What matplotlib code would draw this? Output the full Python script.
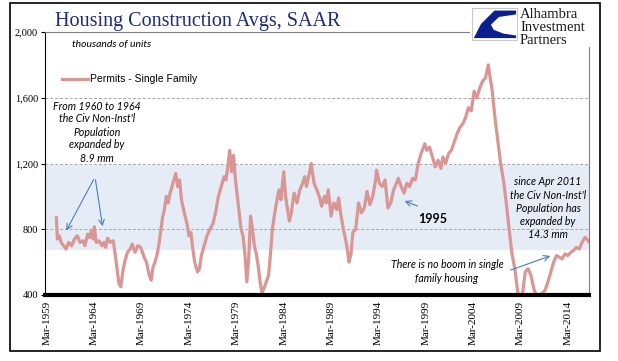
import matplotlib.pyplot as plt
from matplotlib.patches import Rectangle, Polygon

# Data (decimal years, thousands of units SAAR)
years = [1960.0, 1960.1, 1960.3, 1960.5, 1960.75, 1961.0, 1961.3, 1961.6, 1961.9,
         1962.2, 1962.5, 1962.8, 1963.0, 1963.3, 1963.5, 1963.7, 1963.9, 1964.0,
         1964.2, 1964.5, 1964.8, 1965.0, 1965.2, 1965.4, 1965.7, 1966.0, 1966.2,
         1966.4, 1966.6, 1966.8, 1967.0, 1967.2, 1967.5, 1967.8, 1968.0, 1968.3,
         1968.6, 1968.9, 1969.2, 1969.5, 1969.8, 1970.0, 1970.2, 1970.4, 1970.6,
         1970.8, 1971.0, 1971.2, 1971.4, 1971.6, 1971.8, 1972.0, 1972.3, 1972.6,
         1972.8, 1973.0, 1973.2, 1973.5, 1973.8, 1974.0, 1974.2, 1974.4, 1974.6,
         1974.9, 1975.1, 1975.3, 1975.6, 1975.9, 1976.2, 1976.5, 1976.8, 1977.1,
         1977.4, 1977.7, 1977.9, 1978.1, 1978.3, 1978.5, 1978.7, 1978.9, 1979.1,
         1979.3, 1979.5, 1979.7, 1979.9, 1980.1, 1980.3, 1980.5, 1980.7, 1980.9,
         1981.1, 1981.3, 1981.5, 1981.7, 1981.9, 1982.1, 1982.4, 1982.6, 1982.8,
         1983.0, 1983.2, 1983.5, 1983.7, 1984.0, 1984.2, 1984.4, 1984.6, 1984.8,
         1985.1, 1985.4, 1985.7, 1986.0, 1986.2, 1986.4, 1986.7, 1986.9, 1987.2,
         1987.5, 1987.8, 1988.0, 1988.3, 1988.5, 1988.7, 1989.0, 1989.3, 1989.6,
         1989.8, 1990.0, 1990.3, 1990.6, 1990.9, 1991.1, 1991.3, 1991.6, 1991.9,
         1992.2, 1992.5, 1992.8, 1993.1, 1993.4, 1993.7, 1993.8, 1994.1, 1994.4,
         1994.7, 1995.0, 1995.3, 1995.6, 1995.9, 1996.1, 1996.4, 1996.7, 1997.0,
         1997.3, 1997.6, 1997.9, 1998.2, 1998.5, 1998.9, 1999.1, 1999.4, 1999.7,
         2000.0, 2000.3, 2000.6, 2000.8, 2001.1, 2001.4, 2001.7, 2002.0, 2002.3,
         2002.6, 2002.9, 2003.2, 2003.5, 2003.8, 2004.1, 2004.4, 2004.7, 2005.0,
         2005.3, 2005.6, 2005.8, 2006.0, 2006.3, 2006.6, 2006.9, 2007.2, 2007.5,
         2007.8, 2008.1, 2008.4, 2008.7, 2008.9, 2009.2, 2009.5, 2009.8, 2010.1,
         2010.4, 2010.7, 2011.0, 2011.3, 2011.6, 2011.9, 2012.2, 2012.5, 2012.8,
         2013.1, 2013.4, 2013.7, 2014.0, 2014.3, 2014.6, 2014.9, 2015.2, 2015.5,
         2015.8, 2016.0, 2016.3]
permits = [870, 740, 760, 720, 700, 680, 720, 700, 740,
           760, 720, 730, 700, 770, 750, 790, 740, 815,
           720, 730, 700, 720, 690, 745, 720, 730, 650,
           560, 470, 450, 540, 600, 660, 680, 710, 660,
           700, 690, 640, 600, 520, 490, 570, 600, 640,
           700, 780, 870, 920, 1000, 960, 1020, 1080, 1140,
           1060, 1100, 980, 900, 830, 760, 780, 680, 600,
           540, 560, 640, 700, 760, 800, 830, 900, 1000,
           1060, 1120, 1100, 1180, 1280, 1150, 1250, 1100, 1000,
           900, 800, 760, 650, 480, 620, 880, 800, 700,
           650, 580, 480, 410, 440, 470, 520, 650, 800,
           880, 950, 1040, 980, 1150, 1000, 920, 850, 900,
           1020, 960, 1040, 1080, 1120, 1060, 1140, 1200, 1080,
           1040, 990, 940, 1000, 960, 1040, 880, 960, 920,
           990, 900, 800, 720, 600, 650, 780, 800, 960,
           900, 930, 1030, 950, 1000, 1100, 1160, 1080, 1060,
           1100, 930, 960, 1040, 1080, 1110, 1060, 1020, 1080,
           1060, 1110, 1100, 1200, 1260, 1320, 1280, 1300, 1240,
           1180, 1220, 1170, 1240, 1200, 1260, 1280, 1330, 1380,
           1420, 1440, 1480, 1540, 1520, 1640, 1600, 1660, 1700,
           1720, 1800, 1720, 1650, 1480, 1340, 1200, 1100, 960,
           800, 650, 560, 420, 370, 400, 540, 560, 520,
           440, 390, 400, 410, 430, 480, 540, 600, 640,
           630, 620, 650, 640, 660, 670, 690, 680, 720,
           750, 740, 720]

tick_years = [1959, 1964, 1969, 1974, 1979, 1984, 1989, 1994, 1999, 2004, 2009, 2014]
y_ticks = [400, 800, 1200, 1600, 2000]
y_labels = ["400", "800", "1,200", "1,600", "2,000"]

W, H = 618, 361


def px(x, y):
    return (x / W, 1 - y / H)


line_col = "#D99694"
arrow_col = "#4A7EBB"
note_font = "Lato"

fig = plt.figure(figsize=(W / 100, H / 100), dpi=100)
ax = fig.add_axes([45 / W, 1 - 295 / H, (589 - 45) / W, (295 - 32) / H])

ax.axhspan(675, 1190, color="#E6ECF6", lw=0, zorder=0)
for v in [800, 1200, 1600]:
    ax.axhline(v, color="#A6A6A6", lw=0.7, ls=(0, (3, 2)), zorder=1)

ax.plot([y + 2 / 12 for y in years], permits, color=line_col, lw=2.3,
        solid_joinstyle="round", zorder=3, label="Permits - Single Family")

ax.set_xlim(1958.96, 2016.4)
ax.set_ylim(400, 2000)
ax.set_yticks(y_ticks)
ax.set_yticklabels(y_labels, fontfamily="Liberation Serif", fontsize=7.5)
ax.set_xticks([y + 2 / 12 for y in tick_years])
ax.set_xticklabels(["Mar-%d" % y for y in tick_years], rotation=90,
                   fontfamily="Liberation Serif", fontsize=8)
ax.tick_params(axis="x", length=0, pad=4)
ax.tick_params(axis="y", length=3, width=0.8, pad=2)

ax.spines["bottom"].set_linewidth(3)
ax.spines["bottom"].set_zorder(4)
ax.spines["left"].set_linewidth(0.8)
ax.spines["top"].set_color("#808080")
ax.spines["top"].set_linewidth(0.8)
ax.spines["right"].set_color("#808080")
ax.spines["right"].set_linewidth(0.8)

# outer frame
fig.patches.append(Rectangle(px(10, 351), 590 / W, 348 / H, transform=fig.transFigure,
                             fill=False, edgecolor="black", lw=1.2, zorder=5))
# white area behind logo
fig.patches.append(Rectangle(px(470, 47), 128 / W, 43 / H, transform=fig.transFigure,
                             facecolor="white", edgecolor="none", zorder=2))

fig.text(*px(55, 26), "Housing Construction Avgs, SAAR", fontfamily="Liberation Serif",
         fontsize=14.5, color="#1F2A7A", va="baseline")
fig.text(*px(72, 44), "thousands of units", fontfamily=note_font, style="italic",
         fontsize=7.5, va="center")

# legend
lx0, lx1 = px(62, 79)[0], px(88, 79)[0]
fig.add_artist(plt.Line2D([lx0, lx1], [px(0, 79)[1]] * 2, color=line_col, lw=2.3,
                          transform=fig.transFigure))
fig.text(*px(90, 79), "Permits - Single Family", fontfamily="Liberation Sans",
         fontsize=7.5, va="center")

# logo
lax = fig.add_axes([472 / W, 1 - 40 / H, 45 / W, 32 / H])
lax.set_zorder(6)
lax.set_xlim(0, 1)
lax.set_ylim(0, 1)
lax.set_xticks([])
lax.set_yticks([])
for s in lax.spines.values():
    s.set_color("#C8C8C8")
    s.set_linewidth(0.8)
lax.add_patch(Polygon([(0.98, 0.92), (0.5, 0.92), (0.2, 0.5), (0.04, 0.06), (0.98, 0.06),
                       (0.98, 0.14), (0.7, 0.2), (0.48, 0.32), (0.42, 0.48), (0.6, 0.72),
                       (0.98, 0.8)], closed=True, facecolor="#0A1F8F", edgecolor="none"))
for i, t in enumerate(["Alhambra", "Investment", "Partners"]):
    fig.text(*px(520, 15 + i * 12.5), t, fontfamily="Liberation Serif", fontsize=10.5,
             color="#1A1A1A", va="center", zorder=7)

# annotations
note1 = ["From 1960 to 1964", "the Civ Non-Inst'l", "Population", "expanded by", "8.9 mm"]
for i, t in enumerate(note1):
    fig.text(*px(97, 106 + i * 13), t, fontfamily=note_font, style="italic",
             fontsize=7.6, ha="center", va="center")
for tip in [(65, 233), (103, 229)]:
    ax.annotate("", xy=px(*tip), xycoords="figure fraction", xytext=px(95, 177),
                textcoords="figure fraction",
                arrowprops=dict(arrowstyle="->", color=arrow_col, lw=0.8))

fig.text(*px(433, 219), "1995", fontfamily=note_font, fontweight="bold",
         fontsize=9, ha="center", va="center")
ax.annotate("", xy=px(402, 200), xycoords="figure fraction", xytext=px(420, 207),
            textcoords="figure fraction",
            arrowprops=dict(arrowstyle="->", color=arrow_col, lw=0.8))

note2 = ["since Apr 2011", "the Civ Non-Inst'l", "Population has", "expanded by", "14.3 mm"]
for i, t in enumerate(note2):
    fig.text(*px(548, 182 + i * 13.2), t, fontfamily=note_font, style="italic",
             fontsize=7.6, ha="center", va="center")

note3 = ["There is no boom in single", "family housing"]
for i, t in enumerate(note3):
    fig.text(*px(447, 265 + i * 13), t, fontfamily=note_font, style="italic",
             fontsize=7.6, ha="center", va="center")
ax.annotate("", xy=px(553, 255), xycoords="figure fraction", xytext=px(508, 271),
            textcoords="figure fraction",
            arrowprops=dict(arrowstyle="->", color=arrow_col, lw=0.8))

fig.savefig("out.png", dpi=100)
